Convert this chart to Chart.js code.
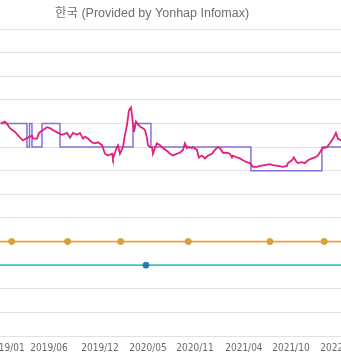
<!DOCTYPE html>
<html>
<head>
<meta charset="utf-8">
<script src="https://cdn.jsdelivr.net/npm/chart.js@4/dist/chart.umd.min.js"></script>
<style>
  html, body { margin: 0; padding: 0; background: #ffffff; }
  body { width: 341px; height: 361px; overflow: hidden; position: relative; }
  #wrap { position: absolute; left: -60px; top: 0; width: 424px; height: 361px; }
</style>
</head>
<body>
<div id="wrap"><canvas id="c" width="424" height="361"></canvas></div>
<script>
// ---- data (x = months since 2019/01, y = rate) ----
const chartTitle = '한국 (Provided by Yonhap Infomax)';
const tickLabels = ['2019/01', '2019/06', '2019/12', '2020/05', '2020/11', '2021/04', '2021/10', '2022/03'];
const tickMonths = [0.61, 5.5, 11.3, 16.76, 22.11, 27.68, 33.03, 38.49];

// daily market rate (pink), [month, value]
const marketRate = [
  [0,2.00],[0.49,2.02],[0.69,2.00],[1.06,1.95],[1.63,1.91],[2.2,1.85],[2.54,1.82],[2.88,1.84],
  [3.11,1.85],[3.56,1.87],[3.68,1.84],[4.13,1.84],[4.36,1.90],[4.82,1.93],[5.27,1.96],[5.61,1.95],
  [5.95,1.93],[6.52,1.90],[6.98,1.88],[7.55,1.90],[7.89,1.85],[8.23,1.90],[8.68,1.88],[9.02,1.90],
  [9.37,1.84],[9.59,1.86],[9.93,1.84],[10.39,1.80],[10.73,1.79],[11.07,1.80],[11.53,1.77],[11.87,1.68],
  [12.21,1.66],[12.67,1.68],[12.78,1.63],[13.23,1.75],[13.35,1.77],[13.57,1.68],[13.92,1.75],[14.14,1.88],
  [14.37,1.98],[14.6,2.14],[14.83,2.17],[14.94,2.09],[15.06,1.98],[15.17,1.91],[15.4,2.02],[15.62,1.99],
  [15.96,1.96],[16.19,1.95],[16.42,1.93],[16.65,1.85],[16.76,1.77],[16.99,1.75],[17.22,1.75],[17.33,1.68],
  [17.56,1.74],[17.79,1.79],[18.13,1.77],[18.47,1.74],[19.04,1.70],[19.26,1.68],[19.6,1.66],[20.06,1.68],
  [20.4,1.69],[20.74,1.72],[20.97,1.79],[21.2,1.74],[21.31,1.75],[21.77,1.74],[21.88,1.75],[22.34,1.72],
  [22.56,1.64],[22.9,1.66],[23.25,1.63],[23.59,1.66],[24.04,1.68],[24.38,1.72],[24.72,1.75],[24.95,1.74],
  [25.29,1.69],[25.75,1.69],[26.09,1.68],[26.32,1.64],[26.43,1.66],[26.89,1.64],[27.23,1.63],[27.57,1.61],
  [28.02,1.59],[28.37,1.58],[28.71,1.54],[29.16,1.54],[29.5,1.55],[30.07,1.56],[30.64,1.57],[30.98,1.56],
  [31.55,1.55],[32.12,1.54],[32.57,1.55],[32.69,1.58],[33.14,1.61],[33.37,1.64],[33.6,1.60],[33.83,1.58],
  [34.28,1.59],[34.62,1.58],[34.96,1.61],[35.42,1.63],[35.76,1.64],[36.1,1.66],[36.44,1.71],[36.67,1.74],
  [37.13,1.75],[37.47,1.79],[37.83,1.84],[38.15,1.90],[38.38,1.84],[38.72,1.82],[39.3,1.82]
];

// stepped reference rate (purple): [start month, level]
const stepRate = [
  [0,2.00],[2.99,1.75],[3.28,2.00],[3.56,1.75],[4.7,2.00],[6.75,1.75],[15.06,2.00],
  [17.1,1.75],[28.48,1.50],[36.56,1.75],[40,1.75]
];

// flat series (orange / teal) with marker months
const orangeLevel = 0.75;
const orangeMarkerMonths = [1.25, 7.62, 13.66, 21.35, 30.64, 36.82];
const tealLevel = 0.5;
const tealMarkerMonths = [16.53];

const xMin = -2, xMax = 40;
const yMin = -0.25, yMax = 3.0, yStep = 0.25;

// ---- build datasets ----
function flatSeries(level, markers) {
  const pts = [{x: xMin, y: level}];
  markers.forEach(m => pts.push({x: m, y: level}));
  pts.push({x: xMax, y: level});
  const radii = pts.map((p, i) => (i === 0 || i === pts.length - 1) ? 0 : 3);
  return {pts, radii};
}
const orange = flatSeries(orangeLevel, orangeMarkerMonths);
const teal = flatSeries(tealLevel, tealMarkerMonths);

new Chart(document.getElementById('c'), {
  type: 'line',
  data: {
    datasets: [
      {
        data: marketRate.map(p => ({x: p[0], y: p[1]})),
        borderColor: '#e3207c',
        borderWidth: 1.8,
        pointRadius: 0,
        tension: 0
      },
      {
        data: stepRate.map(p => ({x: p[0], y: p[1]})),
        borderColor: '#8a6fd8',
        borderWidth: 1.5,
        pointRadius: 0,
        stepped: 'before'
      },
      {
        data: orange.pts,
        borderColor: '#f0a236',
        borderWidth: 1.8,
        pointRadius: orange.radii,
        pointBackgroundColor: '#d9a03c',
        pointBorderColor: '#d49a38',
        pointBorderWidth: 1
      },
      {
        data: teal.pts,
        borderColor: '#3ccab4',
        borderWidth: 1.8,
        pointRadius: teal.radii,
        pointBackgroundColor: '#2a78b6',
        pointBorderColor: '#2a78b6',
        pointBorderWidth: 1
      }
    ]
  },
  options: {
    responsive: false,
    animation: false,
    devicePixelRatio: 1,
    layout: { autoPadding: false, padding: { left: 11.7, right: 11.7, top: 0, bottom: 1 } },
    plugins: {
      legend: { display: false },
      tooltip: { enabled: false },
      title: {
        display: true,
        text: chartTitle,
        color: '#6e6e6e',
        font: { family: "'Liberation Sans', 'Noto Sans CJK KR', sans-serif", size: 12.5, weight: 'normal', lineHeight: 1.2 },
        padding: { top: 6, bottom: 8 }
      }
    },
    scales: {
      x: {
        type: 'linear',
        min: xMin,
        max: xMax,
        grid: { display: false, drawTicks: false },
        border: { display: false },
        afterBuildTicks: (axis) => { axis.ticks = tickMonths.map(v => ({value: v})); },
        ticks: {
          autoSkip: false,
          maxRotation: 0,
          padding: 6,
          color: '#6a6a6a',
          font: { family: "'Liberation Sans Narrow', 'DejaVu Sans Condensed', 'Liberation Sans', sans-serif", size: 10, lineHeight: 1.2 },
          callback: (value, index) => tickLabels[index]
        }
      },
      y: {
        min: yMin,
        max: yMax,
        grid: { color: '#e2e2e2', lineWidth: 1, drawTicks: false },
        border: { display: false },
        ticks: { display: false, stepSize: yStep },
        afterFit: (axis) => { axis.width = 31.4; }
      }
    }
  }
});
</script>
</body>
</html>
